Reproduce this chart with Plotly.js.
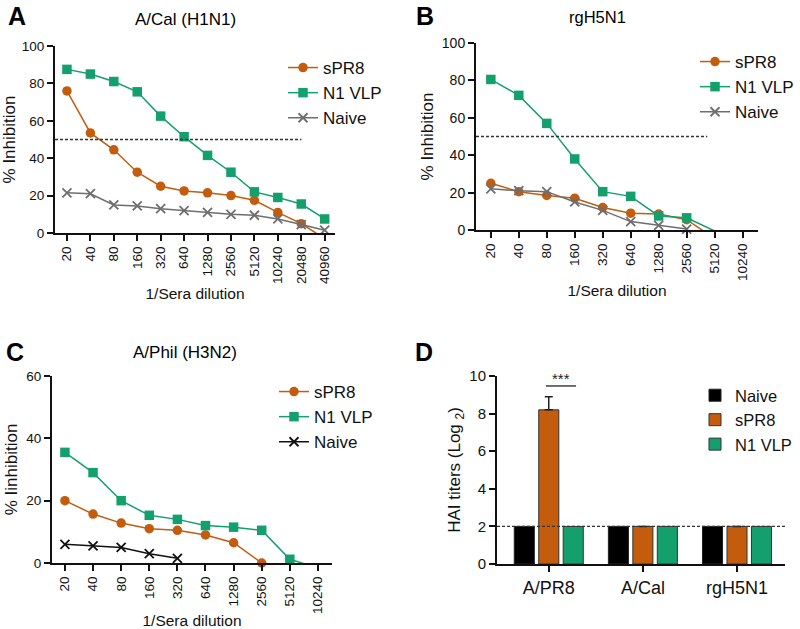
<!DOCTYPE html>
<html><head><meta charset="utf-8">
<script src="https://cdn.plot.ly/plotly-3.0.1.min.js"></script>
<style>html,body{margin:0;padding:0;background:#fff;}#chart{width:800px;height:629px;}</style>
</head><body><div id="chart"></div>
<script>
// ---- data ----
const dilA = ['20','40','80','160','320','640','1280','2560','5120','10240','20480','40960'];
const dilBC = ['20','40','80','160','320','640','1280','2560','5120','10240'];

const a_sPR8  = [76, 53.5, 44.5, 32.5, 25, 22.5, 21.5, 20, 17.5, 11, 5, -3];
const a_N1VLP = [87.5, 85, 81, 75.5, 62.5, 51.5, 41.5, 32.5, 22, 19, 15.5, 7.5];
const a_Naive = [21.5, 21, 15, 14.5, 13, 12, 11, 10, 9.5, 7.5, 4.5, 1.5];

const b_sPR8  = [25, 20.5, 18.5, 17, 12, 9, 8.5, 5.5, -4.5];
const b_N1VLP = [80.5, 72, 57, 38, 20.5, 18, 7.5, 6.5, -0.5];
const b_Naive = [22, 21, 20.5, 15, 10.5, 4.5, 2.5, 0.5];

const c_sPR8  = [20, 15.7, 12.8, 11, 10.5, 9, 6.5, 0];
const c_N1VLP = [35.5, 29, 20, 15.3, 14, 12, 11.5, 10.5, 1.2, -1.6];
const c_Naive = [6, 5.5, 5, 3, 1.5];

const d_groups = ['A/PR8', 'A/Cal', 'rgH5N1'];
const d_Naive  = [2, 2, 2];
const d_sPR8   = [8.2, 2, 2];
const d_N1VLP  = [2, 2, 2];
const d_sPR8_err = [0.7, 0, 0];

const threshold50 = 50;
const hai_limit = 2;

// ---- style ----
const ORANGE = '#c45c0e';
const GREEN = '#13a06c';
const GREY = '#6e6e6e';
const FONT = 'Liberation Sans, Arial, sans-serif';
const W = 800, H = 629;
const px = v => v / W;
const py = v => 1 - v / H;

function lineTrace(x, y, name, color, symbol, xa, ya, leg, clip) {
  const isX = symbol === 'x-thin-open';
  return {
    type: 'scatter', mode: 'lines+markers', x: x.slice(0, y.length), y: y, name: name,
    xaxis: xa, yaxis: ya, legend: leg, cliponaxis: clip,
    line: {color: color, width: 1.5},
    marker: {color: color, symbol: symbol, size: isX ? 9 : 9.5,
             line: {color: color, width: isX ? 1.8 : 0}}
  };
}

const traces = [
  lineTrace(dilA, a_sPR8, 'sPR8', ORANGE, 'circle', 'x', 'y', 'legend', true),
  lineTrace(dilA, a_N1VLP, 'N1 VLP', GREEN, 'square', 'x', 'y', 'legend', true),
  lineTrace(dilA, a_Naive, 'Naive', GREY, 'x-thin-open', 'x', 'y', 'legend', false),

  lineTrace(dilBC, b_sPR8, 'sPR8', ORANGE, 'circle', 'x2', 'y2', 'legend2', true),
  lineTrace(dilBC, b_N1VLP, 'N1 VLP', GREEN, 'square', 'x2', 'y2', 'legend2', true),
  lineTrace(dilBC, b_Naive, 'Naive', GREY, 'x-thin-open', 'x2', 'y2', 'legend2', false),

  lineTrace(dilBC, c_sPR8, 'sPR8', ORANGE, 'circle', 'x3', 'y3', 'legend3', false),
  lineTrace(dilBC, c_N1VLP, 'N1 VLP', GREEN, 'square', 'x3', 'y3', 'legend3', true),
  lineTrace(dilBC, c_Naive, 'Naive', '#111', 'x-thin-open', 'x3', 'y3', 'legend3', false),

  {type:'bar', x: d_groups, y: d_Naive, name:'Naive', xaxis:'x4', yaxis:'y4', legend:'legend4',
   marker:{color:'#000', line:{color:'#222', width:1}}},
  {type:'bar', x: d_groups, y: d_sPR8, name:'sPR8', xaxis:'x4', yaxis:'y4', legend:'legend4',
   marker:{color:ORANGE, line:{color:'#333', width:1}},
   error_y:{type:'data', array:d_sPR8_err, arrayminus:[0,0,0], symmetric:false, color:'#222', thickness:1.5, width:4}},
  {type:'bar', x: d_groups, y: d_N1VLP, name:'N1 VLP', xaxis:'x4', yaxis:'y4', legend:'legend4',
   marker:{color:GREEN, line:{color:'#333', width:1}}}
];

const tickF = {family: FONT, size: 13.5, color: '#111'};

function xax(dom, anchor, rng, cats) {
  return {domain: dom, anchor: anchor, type: 'category', range: rng,
    categoryorder: 'array', categoryarray: cats,
    showline: true, linecolor: '#111', linewidth: 2, ticks: 'outside', ticklen: 6, tickwidth: 2,
    tickcolor: '#111', tickangle: -90, tickfont: tickF, showgrid: false, zeroline: false,
    title: {text: '1/Sera dilution', font: {family: FONT, size: 15.5, color: '#111'}, standoff: 5}};
}
function yax(dom, anchor, rng, dtick, text, tsize) {
  return {domain: dom, anchor: anchor, range: rng, dtick: dtick,
    showline: true, linecolor: '#111', linewidth: 2, ticks: 'outside', ticklen: 6, tickwidth: 2,
    tickcolor: '#111', tickfont: {family: FONT, size: tsize || 13.5, color: '#111'}, showgrid: false, zeroline: false,
    title: {text: text, font: {family: FONT, size: 17, color: '#111'}, standoff: 4}};
}
function leg(x, y, fs) {
  return {x: px(x), y: py(y), xanchor: 'left', yanchor: 'top', bgcolor: 'rgba(0,0,0,0)',
    font: {family: FONT, size: fs || 17, color: '#111'}, tracegroupgap: 0, itemwidth: 30};
}
function ann(text, x, y, size) {
  return {text: text, x: px(x), y: py(y), xref: 'paper', yref: 'paper', xanchor: 'center', yanchor: 'middle',
    showarrow: false, font: {family: FONT, size: size, color: '#000'}};
}

const layout = {
  width: W, height: H, margin: {l: 0, r: 0, t: 0, b: 0},
  paper_bgcolor: '#fff', plot_bgcolor: '#fff', showlegend: true,
  bargap: 0.22, bargroupgap: 0.18, barmode: 'group',
  xaxis:  xax([px(55), px(335)], 'y', [-0.51, 11.44], dilA),
  yaxis:  yax([py(233), py(46)], 'x', [0, 100], 20, '% Inhibition'),
  xaxis2: xax([px(476), px(758)], 'y2', [-0.53, 9.55], dilBC),
  yaxis2: yax([py(230), py(43)], 'x2', [0, 100], 20, '% Inhibition', 14),
  xaxis3: xax([px(52), px(332)], 'y3', [-0.46, 9.5], dilBC),
  yaxis3: yax([py(563), py(376)], 'x3', [0, 60], 20, '% Iinhibition'),
  xaxis4: {domain: [px(497), px(785)], anchor: 'y4', type: 'category', range: [-0.55, 2.51],
    showline: true, linecolor: '#111', linewidth: 2, ticks: 'outside', ticklen: 6, tickwidth: 2,
    tickcolor: '#111', tickfont: {family: FONT, size: 18, color: '#111'}, showgrid: false, zeroline: false},
  yaxis4: yax([py(564), py(376)], 'x4', [0, 10], 2, 'HAI titers (Log <sub>2</sub>)', 15),
  legend: leg(283, 50),
  legend2: leg(695, 44),
  legend3: leg(274, 374),
  legend4: leg(695, 378, 16.5),
  shapes: [
    {type:'line', xref:'x domain', yref:'y', x0:0, x1:0.88, y0:threshold50, y1:threshold50,
     line:{color:'#333', width:1.3, dash:'3px,2px'}},
    {type:'line', xref:'x2 domain', yref:'y2', x0:0, x1:0.82, y0:threshold50, y1:threshold50,
     line:{color:'#333', width:1.3, dash:'3px,2px'}},
    {type:'line', xref:'x4 domain', yref:'y4', x0:0, x1:1, y0:hai_limit, y1:hai_limit,
     line:{color:'#333', width:1.3, dash:'3px,2px'}},
    {type:'line', xref:'x4', yref:'y4', x0:-0.03, x1:0.29, y0:9.47, y1:9.47,
     line:{color:'#222', width:1.3}}
  ],
  annotations: [
    ann('<b>A</b>', 17, 16, 25),
    ann('<b>B</b>', 425, 16, 25),
    ann('<b>C</b>', 15, 352, 25),
    ann('<b>D</b>', 424, 352, 25),
    ann('A/Cal (H1N1)', 185, 20, 17),
    ann('rgH5N1', 597, 17, 16.5),
    ann('A/Phil (H3N2)', 185, 352, 17),
    {text:'***', x:0.13, y:9.85, xref:'x4', yref:'y4', showarrow:false, font:{family:FONT, size:15, color:'#222'}}
  ]
};

Plotly.newPlot('chart', traces, layout, {staticPlot: true, displayModeBar: false});
</script></body></html>
